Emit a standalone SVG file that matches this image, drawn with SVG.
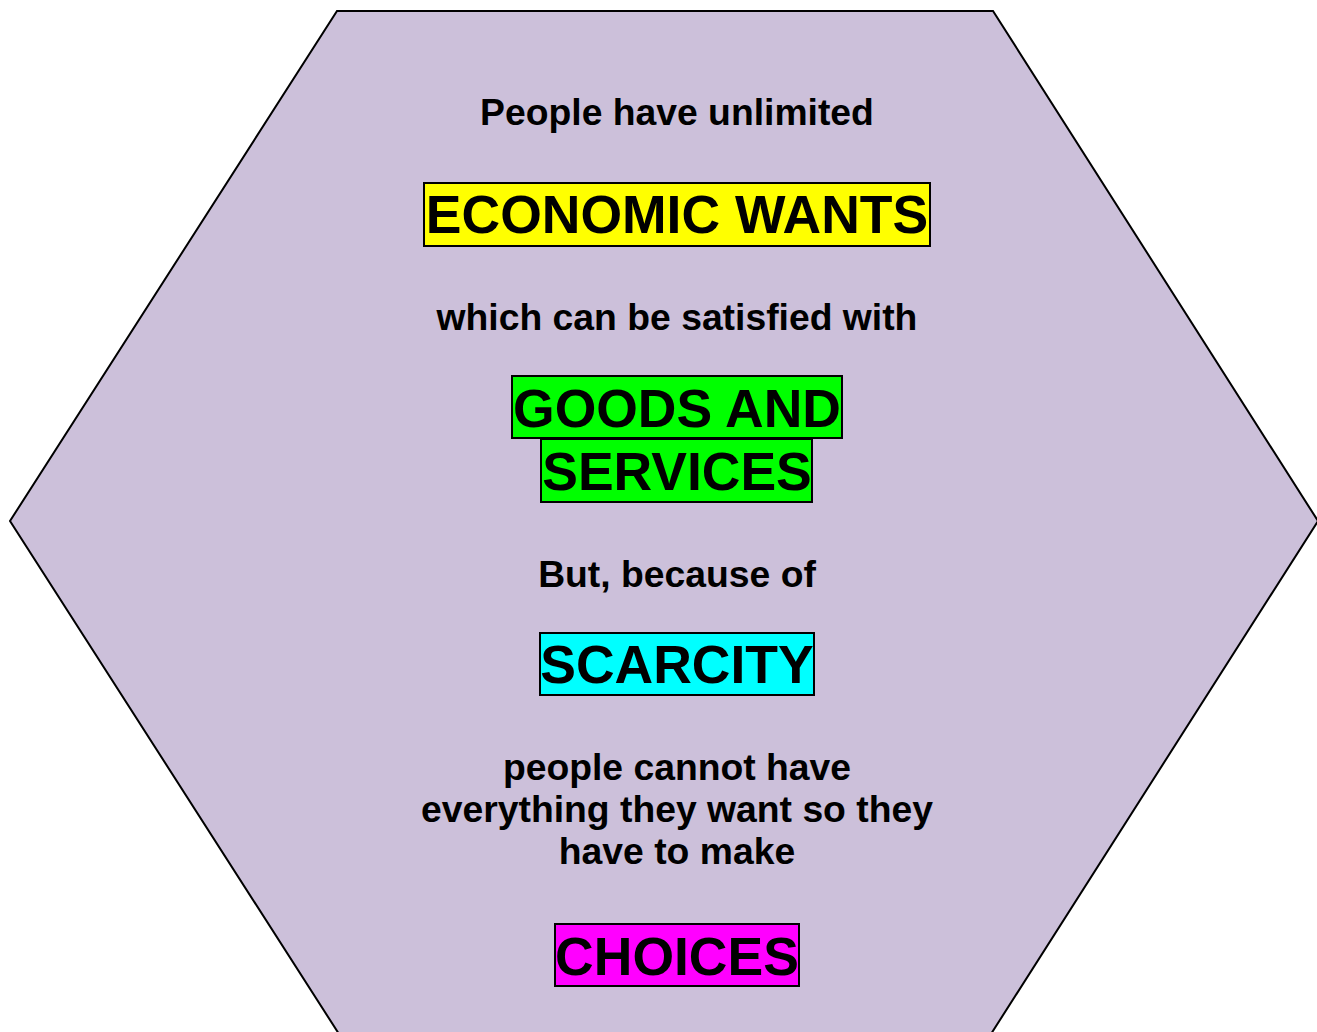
<svg xmlns="http://www.w3.org/2000/svg" width="1317" height="1032" viewBox="0 0 1317 1032">
<style>
text{font-family:"Liberation Sans",Arial,sans-serif;font-weight:bold;text-anchor:middle;fill:#000}
.s{font-size:37.3px}
.b{font-size:53.5px}
.box{stroke:#000;stroke-width:2}
</style>
<rect width="1317" height="1032" fill="#fff"/>
<g id="hexagon">
<polygon points="337,11 993,11 1318,521 991,1034 339,1034 10,521" fill="#CCC0DA" stroke="#000" stroke-width="2"/>
</g>
<g id="line1"><text class="s" x="677" y="125">People have unlimited</text></g>
<g id="economic-wants">
<rect class="box" x="424" y="183" width="506" height="63" fill="#FFFF00"/>
<text class="b" x="677" y="233">ECONOMIC WANTS</text>
</g>
<g id="line2"><text class="s" x="677" y="330">which can be satisfied with</text></g>
<g id="goods-services">
<rect class="box" x="512" y="376" width="330" height="62" fill="#00FF00"/>
<rect class="box" x="541" y="439" width="271" height="63" fill="#00FF00"/>
<text class="b" x="677" y="427">GOODS AND</text>
<text class="b" x="677" y="490">SERVICES</text>
</g>
<g id="line3"><text class="s" x="677" y="587">But, because of</text></g>
<g id="scarcity">
<rect class="box" x="540" y="633" width="274" height="62" fill="#00FFFF"/>
<text class="b" x="677" y="683">SCARCITY</text>
</g>
<g id="line4">
<text class="s" x="677" y="780">people cannot have</text>
<text class="s" x="677" y="822">everything they want so they</text>
<text class="s" x="677" y="864">have to make</text>
</g>
<g id="choices">
<rect class="box" x="555" y="924" width="244" height="62" fill="#FF00FF"/>
<text class="b" x="677" y="975">CHOICES</text>
</g>
<g id="connectors"></g>
</svg>
